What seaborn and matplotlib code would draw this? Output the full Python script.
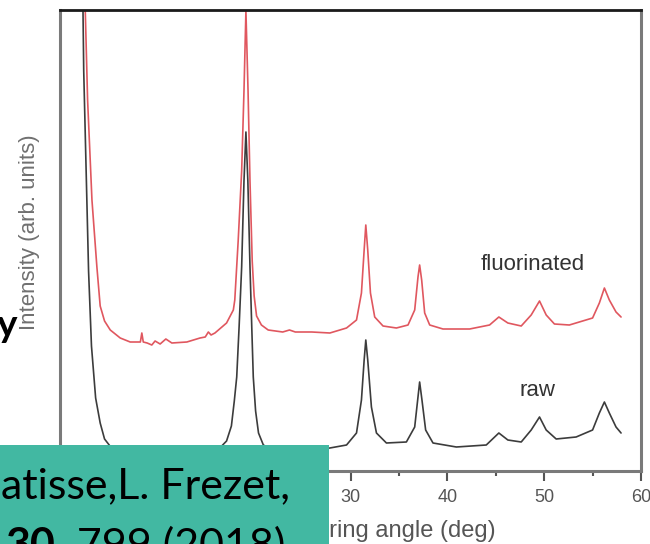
import matplotlib
matplotlib.use("Agg")
import matplotlib.pyplot as plt
import numpy as np
import pandas as pd
import seaborn as sns
from matplotlib.patches import Rectangle

# ---------------- data ----------------
red_angle = [2.55, 2.61, 2.85, 3.30, 3.81, 4.15, 4.6, 5.19, 6.22, 7.25, 8.3, 8.45, 8.6,
             9.0, 9.48, 9.82, 10.34, 10.93, 11.55, 13.1, 14.46, 15.0, 15.32, 15.6, 16.0,
             17.2, 17.9, 18.05, 18.4, 18.76, 19.0, 19.2, 19.42, 19.62, 19.85, 20.05, 20.3,
             20.8, 21.5, 23.0, 23.7, 24.3, 26.0, 27.87, 29.59, 30.62, 31.13, 31.41, 31.58,
             31.78, 32.06, 32.5, 33.36, 34.74, 35.94, 36.63, 36.97, 37.14, 37.35, 37.66,
             38.18, 39.55, 42.3, 44.36, 45.32, 46.25, 47.63, 48.66, 49.52, 50.21, 51.06,
             52.6, 55.0, 55.7, 56.22, 56.73, 57.42, 57.94]
red_intensity = [500, 460, 371, 271, 204, 165, 150, 141, 133, 129, 129, 138, 129,
                 128, 126, 130, 127, 132, 128, 129, 133, 134, 139, 136, 138,
                 148, 161, 171, 230, 300, 380, 460, 380, 290, 210, 175, 155,
                 146, 141, 139, 141, 139, 139, 138, 143, 151, 178, 221, 246,
                 221, 178, 154, 145, 143, 146, 161, 194, 206, 191, 158,
                 146, 142, 142, 146, 154, 148, 145, 156, 170, 156, 147,
                 146, 153, 168, 183, 171, 159, 154]

black_angle = [2.35, 2.45, 2.6, 2.75, 2.95, 3.25, 3.68, 4.15, 4.6, 5.4, 6.7, 8.5, 11.0,
               14.0, 16.0, 17.2, 17.7, 18.0, 18.25, 18.5, 18.76, 19.0, 19.2, 19.4, 19.62,
               19.8, 19.96, 20.2, 20.5, 21.0, 22.0, 24.0, 26.0, 27.87, 29.59, 30.62, 31.13,
               31.41, 31.58, 31.78, 32.16, 32.68, 33.71, 35.77, 36.63, 36.97, 37.14, 37.38,
               37.76, 38.52, 40.93, 44.02, 45.32, 46.25, 47.63, 48.66, 49.52, 50.21, 51.24,
               53.3, 55.0, 55.7, 56.22, 56.73, 57.42, 57.94]
black_intensity = [480, 400, 340, 280, 200, 125, 73, 48, 32, 22, 15, 12, 11,
                   13, 18, 30, 45, 70, 94, 145, 204, 290, 339, 290, 204,
                   145, 94, 60, 38, 26, 21, 20, 21, 23, 26, 38, 71,
                   111, 131, 111, 64, 38, 28, 29, 44, 74, 89, 71,
                   41, 28, 24, 26, 38, 31, 29, 41, 54, 41, 32,
                   34, 41, 58, 69, 58, 44, 38]

major_ticks = [0, 10, 20, 30, 40, 50, 60]
minor_ticks = [5, 15, 25, 35, 45, 55]
x_label = "Scattering angle (deg)"
y_label = "Intensity (arb. units)"
series_labels = ["fluorinated", "raw"]
ref_line1 = "atisse,L. Frezet,"
ref_bold = "30"
ref_rest = ", 799 (2018)"

# ---------------- figure ----------------
sns.set_theme(style="white")
plt.rcParams["font.family"] = ["Liberation Sans", "DejaVu Sans"]

W, H = 650, 544
fig = plt.figure(figsize=(W / 100, H / 100), dpi=100)
fig.patch.set_facecolor("white")
ax = fig.add_axes([60 / W, 1 - 471 / H, 581 / W, 461 / H])

df_red = pd.DataFrame({"angle": red_angle, "intensity": red_intensity})
df_black = pd.DataFrame({"angle": black_angle, "intensity": black_intensity})
sns.lineplot(data=df_black, x="angle", y="intensity", ax=ax, color="#3c3c3c",
             lw=1.2, sort=False, estimator=None)
sns.lineplot(data=df_red, x="angle", y="intensity", ax=ax, color="#e0575f",
             lw=1.2, sort=False, estimator=None)

ax.set_xlim(0, 60)
ax.set_ylim(0, 461)
ax.set_yticks([])
ax.set_xticks(major_ticks)
ax.set_xticks(minor_ticks, minor=True)
ax.tick_params(axis="x", which="major", direction="out", length=7, width=1.5,
               color="#555555", labelsize=13, labelcolor="#555555", pad=6, bottom=True)
ax.tick_params(axis="x", which="minor", direction="out", length=3.5, width=1.5,
               color="#555555", bottom=True)
for s in ["left", "right", "bottom"]:
    ax.spines[s].set_color("#7a7a7a")
    ax.spines[s].set_linewidth(2.2)
ax.spines["top"].set_color("#1a1a1a")
ax.spines["top"].set_linewidth(2.0)

ax.set_xlabel(x_label, fontsize=17, color="#555555")
ax.xaxis.set_label_coords((496 - 60) / 581, (471 - 520) / 461)
ax.xaxis.label.set_ha("right")
ax.set_ylabel(y_label, fontsize=16, color="#707070")
ax.yaxis.set_label_coords((40 - 60) / 581, (471 - 232) / 461)

ax.text(48.8, 206, series_labels[0], fontsize=16, color="#333333", ha="center", va="center")
ax.text(49.3, 81, series_labels[1], fontsize=16, color="#333333", ha="center", va="center")

# slide overlay elements
fig.add_artist(Rectangle((0, 0), 329 / W, 99 / H, transform=fig.transFigure,
                         facecolor="#42b8a2", edgecolor="none", zorder=10))
box_font = ["Lato", "DejaVu Sans"]
fig.text(1 / W, 1 - 498 / H, ref_line1, fontsize=31, family=box_font, color="black",
         va="baseline", ha="left", zorder=11)
t30 = fig.text(6 / W, 1 - 559 / H, ref_bold, fontsize=31, family=box_font,
               fontweight="bold", color="black", va="baseline", ha="left", zorder=11)
fig.canvas.draw()
bb = t30.get_window_extent(renderer=fig.canvas.get_renderer())
fig.text(bb.x1 / W, 1 - 559 / H, ref_rest, fontsize=31, family=box_font, color="black",
         va="baseline", ha="left", zorder=11)
fig.text(17 / W, 1 - 337 / H, "y", fontsize=28, family=box_font, fontweight="bold",
         color="black", va="baseline", ha="right", zorder=11)

fig.savefig("out.png", dpi=100)
